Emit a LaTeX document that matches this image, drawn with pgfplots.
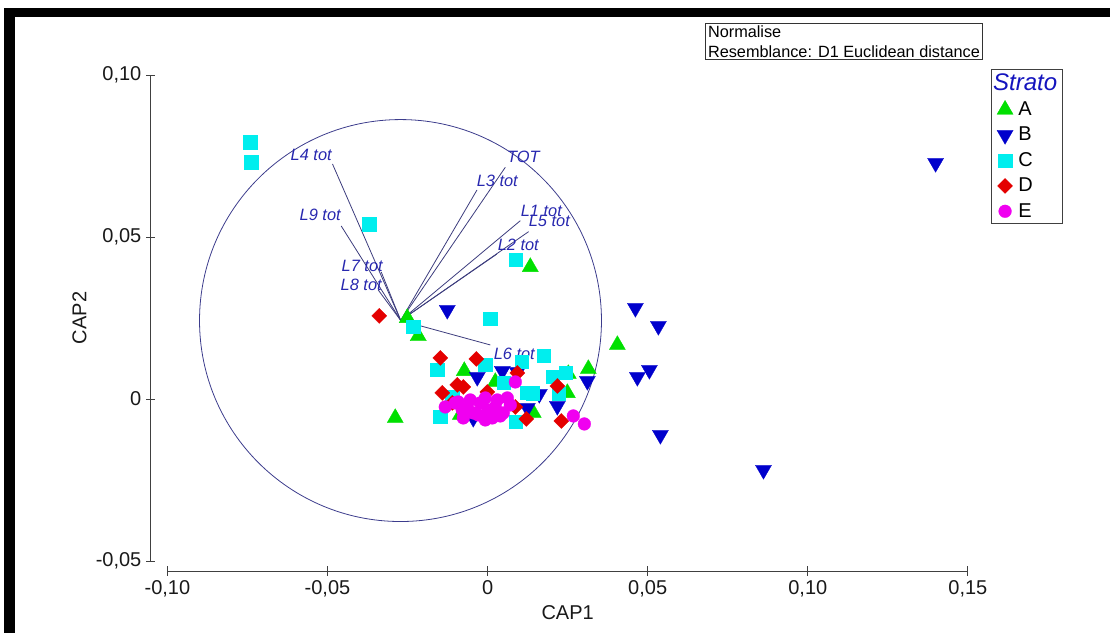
\documentclass[border=0pt]{standalone}
\usepackage{fontspec}
\setmainfont{Liberation Sans}
\usepackage{pgfplots}
\pgfplotsset{compat=1.18}
\definecolor{cA}{RGB}{0,224,0}
\definecolor{cB}{RGB}{0,0,204}
\definecolor{cC}{RGB}{0,238,238}
\definecolor{cD}{RGB}{228,0,0}
\definecolor{cE}{RGB}{240,0,240}
\definecolor{vecc}{RGB}{60,60,125}
\definecolor{circc}{RGB}{60,60,140}
\definecolor{labc}{RGB}{40,40,175}
\definecolor{titc}{RGB}{20,20,190}
\begin{document}
\begin{tikzpicture}
\begin{axis}[
  scale only axis, width=600.45pt, height=364.5pt,
  xmin=-0.10, xmax=0.15, ymin=-0.05, ymax=0.10,
  axis x line=bottom, axis y line=left,
  axis x line shift=7.5pt, axis y line shift=12.5pt,
  axis line style={-, black!75, line width=0.6pt},
  xtick={-0.10,-0.05,0,0.05,0.10,0.15},
  xticklabels={{-0,10},{-0,05},{0},{0,05},{0,10},{0,15}},
  ytick={-0.05,0,0.05,0.10},
  yticklabels={{-0,05},{0},{0,05},{0,10}},
  tick align=center, major tick length=7pt,
  tick style={black!75, line width=0.6pt},
  ticklabel style={font=\fontsize{15}{17}\selectfont, text=black!90},
  xlabel={CAP1}, ylabel={CAP2},
  label style={font=\fontsize{15}{17}\selectfont, text=black!90},
  clip=false,
  legend style={at={(1.0284,1.0123)}, anchor=north west, draw=black!75,
    fill=white, font=\fontsize{15}{17}\selectfont, row sep=3.2pt, column sep=2pt,
    inner xsep=2pt, inner ysep=1pt, cells={anchor=west}, line width=0.6pt},
]
% correlation circle
\draw[circc, line width=0.6pt] (axis cs:-0.0272,0.0242) circle [radius=150.75pt];
% vectors
\addplot[vecc, line width=0.6pt, forget plot] coordinates {(-0.02713,0.02423) (-0.04844,0.07253)};
\addplot[vecc, line width=0.6pt, forget plot] coordinates {(-0.02713,0.02423) (-0.04572,0.05340)};
\addplot[vecc, line width=0.6pt, forget plot] coordinates {(-0.02713,0.02423) (-0.03322,0.03920)};
\addplot[vecc, line width=0.6pt, forget plot] coordinates {(-0.02713,0.02423) (-0.03416,0.03364)};
\addplot[vecc, line width=0.6pt, forget plot] coordinates {(-0.02713,0.02423) (0.00553,0.07151)};
\addplot[vecc, line width=0.6pt, forget plot] coordinates {(-0.02713,0.02423) (-0.00331,0.06451)};
\addplot[vecc, line width=0.6pt, forget plot] coordinates {(-0.02713,0.02423) (0.01022,0.05503)};
\addplot[vecc, line width=0.6pt, forget plot] coordinates {(-0.02713,0.02423) (0.01281,0.05164)};
\addplot[vecc, line width=0.6pt, forget plot] coordinates {(-0.02713,0.02423) (0.00294,0.04475)};
\addplot[vecc, line width=0.6pt, forget plot] coordinates {(-0.02713,0.02423) (0.00084,0.01667)};
% legend title
\addlegendimage{empty legend}
\addlegendentry{\hspace*{-19pt}\fontsize{18}{20}\selectfont\itshape\color{titc}Strato}
% A
\addplot[only marks, mark=triangle*, mark size=7pt, color=cA, mark options={line width=0.2pt}] coordinates {
(0.01334,0.04074) (-0.02884,-0.00586) (-0.02166,0.01944) (-0.02509,0.02500) (0.04053,0.01667) (0.02522,0.00772) (0.03147,0.00926) (0.02491,0.00185) (0.01428,-0.00432) (-0.00728,0.00864) (0.00241,0.00525) (-0.00853,-0.00494)
};
\addlegendentry{A}
% B
\addplot[only marks, mark=triangle*, mark size=7pt, color=cB, mark options={rotate=180, line width=0.2pt}] coordinates {
(0.13991,0.07284) (-0.01259,0.02747) (0.04616,0.02809) (0.05334,0.02253) (0.04678,0.00679) (0.05053,0.00895) (0.03116,0.00556) (0.05397,-0.01111) (0.08616,-0.02191) (0.01616,0.00154) (0.02178,-0.00216) (-0.00322,0.00679) (0.00459,0.00864) (0.00928,0.00833) (0.01241,-0.00278) (-0.00447,-0.00586) (0.00397,-0.00401)
};
\addlegendentry{B}
% C
\addplot[only marks, mark=square*, mark size=5pt, color=cC, mark options={line width=0.2pt}] coordinates {
(-0.07416,0.07932) (-0.07384,0.07315) (-0.03697,0.05401) (-0.02322,0.02222) (0.00866,0.04290) (0.00084,0.02469) (0.01741,0.01327) (-0.01572,0.00895) (-0.00072,0.01049) (0.01053,0.01142) (0.02022,0.00679) (0.00491,0.00494) (0.01209,0.00185) (0.02209,0.00154) (-0.01478,-0.00556) (0.00866,-0.00710) (-0.01103,0.00062) (0.02428,0.00802) (0.01397,0.00176)
};
\addlegendentry{C}
% D
\addplot[only marks, mark=square*, mark size=4pt, color=cD, mark options={rotate=45, line width=0.2pt}] coordinates {
(-0.03384,0.02562) (-0.01478,0.01265) (-0.00353,0.01235) (0.00928,0.00802) (0.02178,0.00401) (0.02303,-0.00679) (0.01209,-0.00617) (-0.01416,0.00185) (-0.00947,0.00432) (-0.00759,0.00370) (-0.01103,-0.00123) (-0.00009,0.00216) (0.00866,-0.00247)
};
\addlegendentry{D}
% E
\addplot[only marks, mark=*, mark size=4.8pt, color=cE, mark options={line width=0.2pt}] coordinates {
(0.00866,0.00525) (-0.01322,-0.00247) (0.02678,-0.00525) (0.03022,-0.00772) (-0.00634,-0.00278) (-0.00228,-0.00123) (0.00022,-0.00340) (0.00303,-0.00031) (0.00491,-0.00432) (0.00709,-0.00185) (0.00147,-0.00586) (-0.00447,-0.00432) (-0.00791,-0.00340) (-0.00916,-0.00093) (-0.00072,0.00031) (0.00241,-0.00247)
(-0.00541,-0.00031) (-0.00291,-0.00494) (0.00397,-0.00525) (0.00616,0.00031) (-0.00759,-0.00586) (-0.00072,-0.00648) (-0.01009,-0.00123)
};
\addlegendentry{E}
% vector labels
\tikzset{lab/.style={font=\fontsize{12.3}{14}\selectfont\itshape, text=labc, inner sep=0pt}}
\node[lab] at (axis cs:-0.05509,0.07531) {L4 tot};
\node[lab] at (axis cs:-0.05228,0.05679) {L9 tot};
\node[lab] at (axis cs:-0.03916,0.04105) {L7 tot};
\node[lab] at (axis cs:-0.03947,0.03519) {L8 tot};
\node[lab] at (axis cs:0.01116,0.07469) {TOT};
\node[lab] at (axis cs:0.00303,0.06728) {L3 tot};
\node[lab] at (axis cs:0.01678,0.05802) {L1 tot};
\node[lab] at (axis cs:0.01928,0.05494) {L5 tot};
\node[lab] at (axis cs:0.00959,0.04753) {L2 tot};
\node[lab] at (axis cs:0.00834,0.01389) {L6 tot};
% info box
\node[draw=black!80, line width=0.6pt, anchor=north west, align=left,
  inner xsep=2pt, inner ysep=1.5pt, font=\fontsize{12.2}{15}\selectfont]
  at (axis cs:0.0679,0.11605) {Normalise\\Resemblance: D1 Euclidean distance};
% frame
\fill[black] (axis cs:-0.15103,-0.07222) rectangle (axis cs:-0.14760,0.12068);
\fill[black] (axis cs:-0.15103,0.12068) rectangle (axis cs:0.19438,0.11790);
\coordinate (BL) at (axis cs:-0.15228,-0.07222);
\coordinate (TR) at (axis cs:0.19438,0.12315);
\end{axis}
\path[use as bounding box] (BL) rectangle (TR);
\end{tikzpicture}
\end{document}
